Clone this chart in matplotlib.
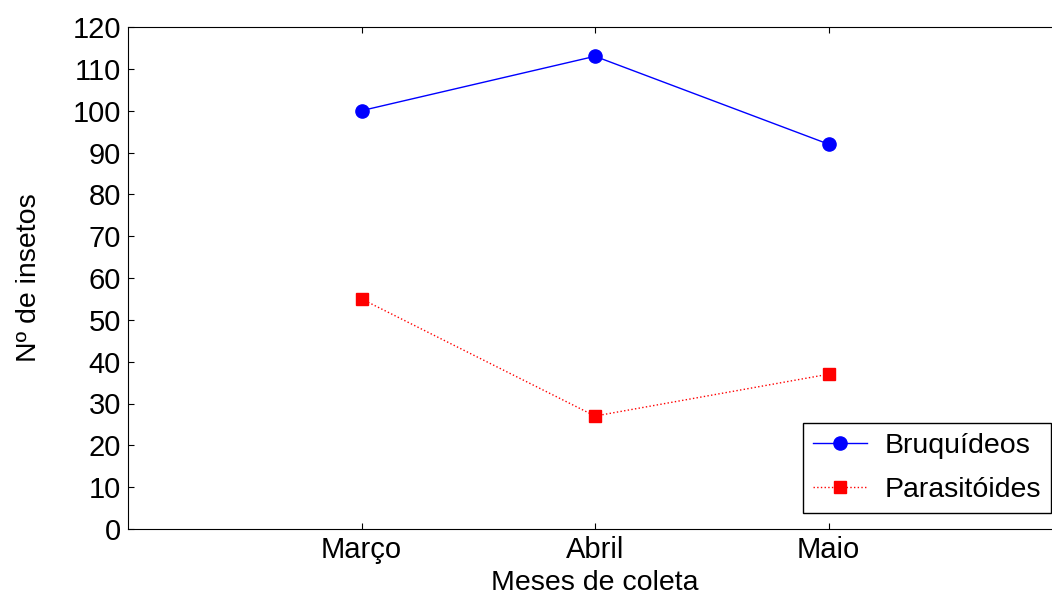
import numpy as np, matplotlib
matplotlib.use("Agg"); import matplotlib.pyplot as plt

meses = ["Março", "Abril", "Maio"]
bruquideos = [100, 113, 92]
parasitoides = [55, 27, 37]

plt.rcParams["font.family"] = ["Liberation Sans", "DejaVu Sans"]
fig = plt.figure(figsize=(10.52, 6.08), dpi=100)
ax = fig.add_axes([128/1052, 79/608, 934/1052, 502/608])
x = np.arange(1, len(meses) + 1)
ax.plot(x, bruquideos, "-", color="blue", lw=1, marker="o", ms=9.5, label="Bruquídeos")
ax.plot(x, parasitoides, ":", color="red", lw=1, marker="s", ms=9, label="Parasitóides")
ax.set_xlim(0, 4); ax.set_ylim(0, 120)
ax.set_yticks(range(0, 121, 10))
ax.set_xticks(x); ax.set_xticklabels(meses)
ax.tick_params(direction="in", length=4, labelsize=21, top=True, pad=5)
ax.spines["right"].set_visible(False)
ax.set_xlabel("Meses de coleta", fontsize=20.5, labelpad=4)
ax.set_ylabel("Nº de insetos", fontsize=20.5, labelpad=22)
leg = ax.legend(loc="lower right", bbox_to_anchor=(1051/1052, 95/608), bbox_transform=fig.transFigure,
                fontsize=20.5, fancybox=False, edgecolor="black", framealpha=1, borderaxespad=0,
                handlelength=1.9, handletextpad=0.6, labelspacing=0.64, borderpad=0.35)
leg.get_frame().set_linewidth(1)
fig.savefig("out.png", dpi=100)
